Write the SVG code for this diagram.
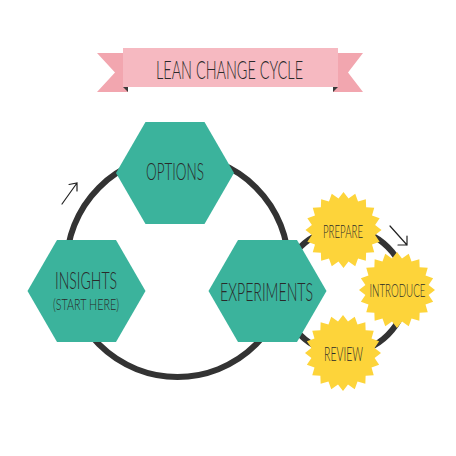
<svg xmlns="http://www.w3.org/2000/svg" width="456" height="456" viewBox="0 0 456 456">
<style>
.lbl{font-family:Lato,"Liberation Sans",sans-serif;font-weight:300;fill:#2a2a2a;text-anchor:middle}
.hex{fill:#3bb39c}
.star{fill:#fdd43a}
.ring{fill:none;stroke:#333;stroke-width:6}
.arr{fill:none;stroke:#222;stroke-width:1.2;stroke-linecap:round}
</style>
<defs>
<polygon id="hexshape" points="-29.5,-51 29.5,-51 59,0 29.5,51 -29.5,51 -59,0"/>
<polygon id="starshape" points="0,-38 5,-31.6 11.74,-36.14 14.53,-28.51 22.34,-30.74 22.63,-22.63 30.74,-22.34 28.51,-14.53 36.14,-11.74 31.6,-5 38,0 31.6,5 36.14,11.74 28.51,14.53 30.74,22.34 22.63,22.63 22.34,30.74 14.53,28.51 11.74,36.14 5,31.6 0,38 -5,31.6 -11.74,36.14 -14.53,28.51 -22.34,30.74 -22.63,22.63 -30.74,22.34 -28.51,14.53 -36.14,11.74 -31.6,5 -38,0 -31.6,-5 -36.14,-11.74 -28.51,-14.53 -30.74,-22.34 -22.63,-22.63 -22.34,-30.74 -14.53,-28.51 -11.74,-36.14 -5,-31.6"/>
</defs>
<rect width="456" height="456" fill="#fff"/>
<g id="banner">
<polygon points="97,53 128,53 128,92 97,92 115,72.5" fill="#f2a6af"/>
<polygon points="363,53 333,53 333,92 363,92 348,72.5" fill="#f2a6af"/>
<polygon points="123,87 128,87 128,92" fill="#3a3a3a"/>
<polygon points="338,87 333,87 333,92" fill="#3a3a3a"/>
<rect x="123" y="48" width="215" height="39" fill="#f6b9c1"/>
<text class="lbl" x="229.5" y="79" font-size="26" textLength="147" lengthAdjust="spacingAndGlyphs">LEAN CHANGE CYCLE</text>
</g>
<g id="connectors">
<circle class="ring" cx="177.5" cy="266" r="111"/>
<circle class="ring" cx="344" cy="291" r="62"/>
<path class="arr" d="M62,204 L77,183 M69,184.5 L77,183 L77,191"/>
<path class="arr" d="M390,226 L407,245 M407,236 L407,245 L398,245"/>
</g>
<g id="options">
<use href="#hexshape" class="hex" x="175" y="173"/>
<text class="lbl" x="175" y="180" font-size="23" textLength="58" lengthAdjust="spacingAndGlyphs">OPTIONS</text>
</g>
<g id="insights">
<use href="#hexshape" class="hex" x="86.5" y="291"/>
<text class="lbl" x="86" y="289" font-size="24" textLength="62" lengthAdjust="spacingAndGlyphs">INSIGHTS</text>
<text class="lbl" x="86" y="310" font-size="16" textLength="66" lengthAdjust="spacingAndGlyphs">(START HERE)</text>
</g>
<g id="experiments">
<use href="#hexshape" class="hex" x="267.5" y="291"/>
<text class="lbl" x="266.5" y="301" font-size="25" textLength="93" lengthAdjust="spacingAndGlyphs">EXPERIMENTS</text>
</g>
<g id="prepare">
<use href="#starshape" class="star" x="343.5" y="230"/>
<text class="lbl" x="343" y="238" font-size="18" textLength="40" lengthAdjust="spacingAndGlyphs">PREPARE</text>
</g>
<g id="introduce">
<use href="#starshape" class="star" x="397" y="290"/>
<text class="lbl" x="397.5" y="297" font-size="17" textLength="56" lengthAdjust="spacingAndGlyphs">INTRODUCE</text>
</g>
<g id="review">
<use href="#starshape" class="star" x="343" y="353"/>
<text class="lbl" x="343.5" y="361" font-size="19" textLength="39" lengthAdjust="spacingAndGlyphs">REVIEW</text>
</g>
</svg>
